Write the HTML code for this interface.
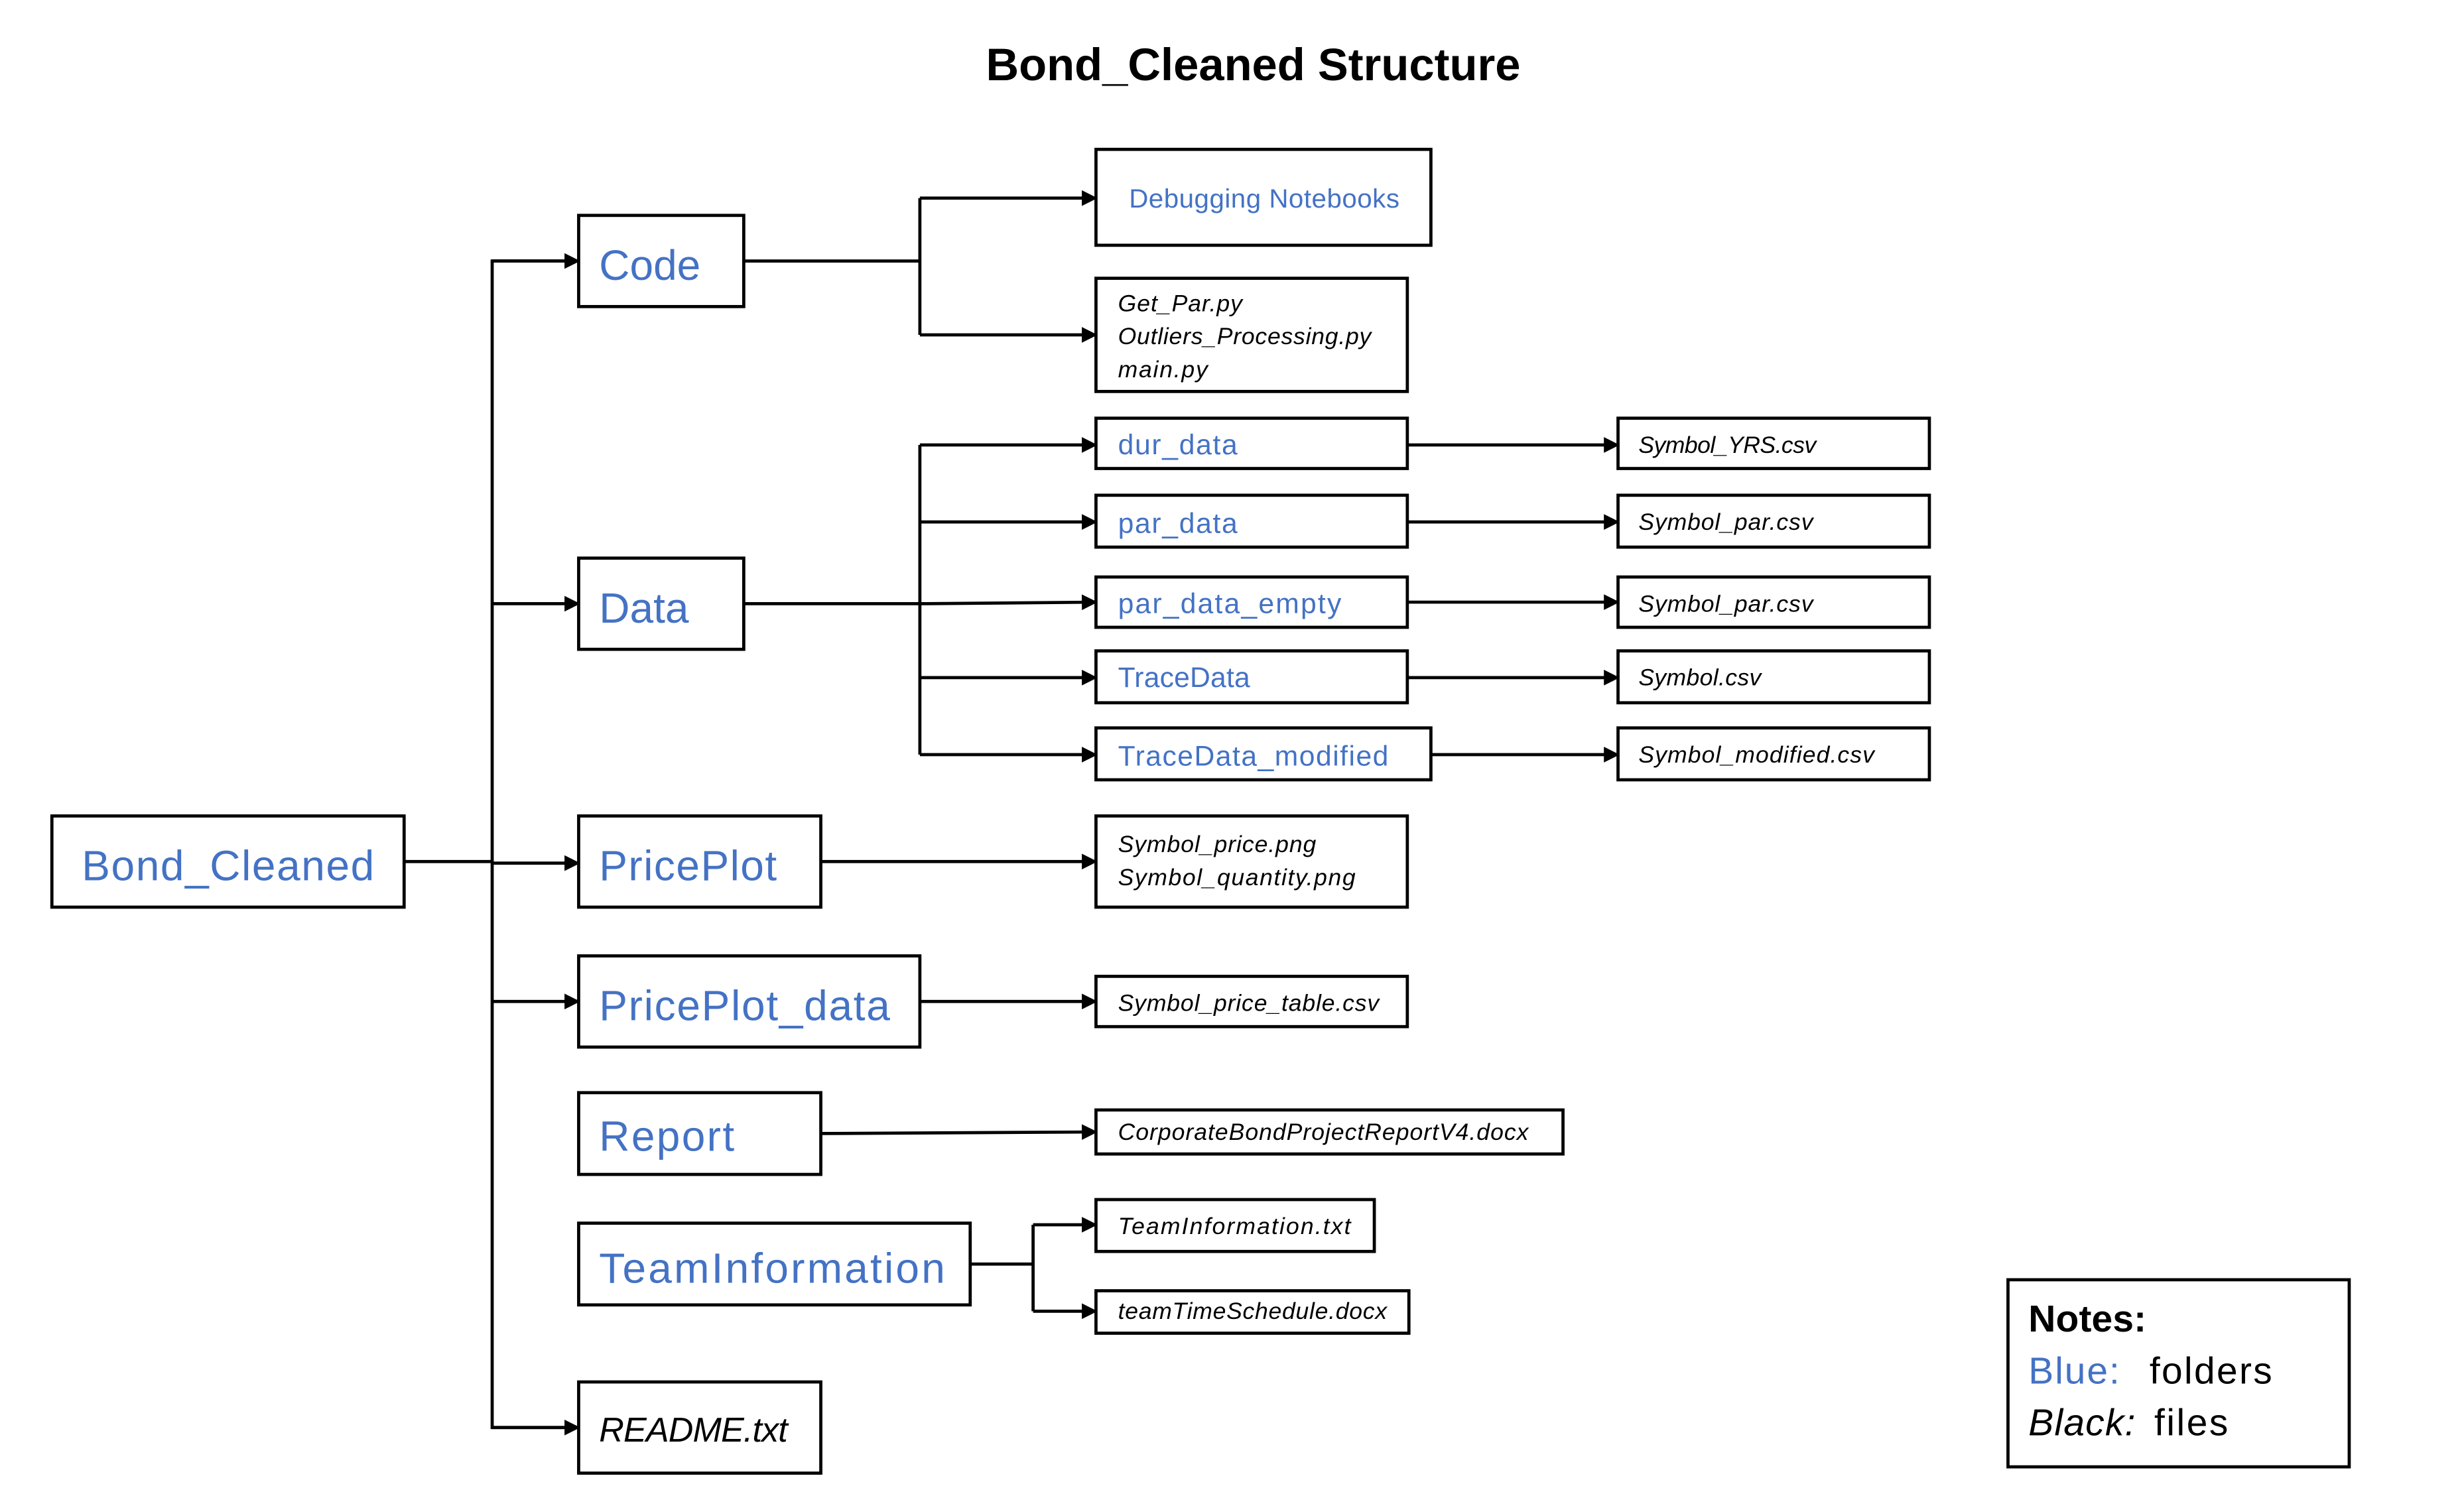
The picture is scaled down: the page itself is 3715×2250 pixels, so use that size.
<!DOCTYPE html>
<html><head><meta charset="utf-8"><style>
html,body{margin:0;padding:0;background:#fff;}
svg{display:block;}
text{font-family:"Liberation Sans",sans-serif;}
.b{fill:#4472C4;}
.f{font-style:italic;fill:#000;}
rect{fill:#fff;stroke:#000;stroke-width:2;}
line,polyline{stroke:#000;stroke-width:2;fill:none;}
</style></head><body>
<svg width="3715" height="2250" viewBox="0 0 1567 949" preserveAspectRatio="none" xmlns="http://www.w3.org/2000/svg">
<defs><marker id="a" markerWidth="10" markerHeight="10" refX="9" refY="5" orient="auto" markerUnits="userSpaceOnUse"><path d="M0,0 L10,5 L0,10 Z" fill="#000"/></marker></defs>
<text x="797" y="51" text-anchor="middle" font-size="29" font-weight="bold">Bond_Cleaned Structure</text>

<line x1="257" y1="548" x2="313" y2="548"/>
<polyline points="368,166 313,166 313,908 368,908"/>
<line x1="313" y1="166" x2="368" y2="166" marker-end="url(#a)"/>
<line x1="313" y1="384" x2="368" y2="384" marker-end="url(#a)"/>
<line x1="313" y1="549" x2="368" y2="549" marker-end="url(#a)"/>
<line x1="313" y1="637" x2="368" y2="637" marker-end="url(#a)"/>
<line x1="313" y1="908" x2="368" y2="908" marker-end="url(#a)"/>

<line x1="473" y1="166" x2="585" y2="166"/>
<line x1="585" y1="126" x2="585" y2="213"/>
<line x1="585" y1="126" x2="697" y2="126" marker-end="url(#a)"/>
<line x1="585" y1="213" x2="697" y2="213" marker-end="url(#a)"/>

<line x1="473" y1="384" x2="585" y2="384"/>
<line x1="585" y1="283" x2="585" y2="480"/>
<line x1="585" y1="283" x2="697" y2="283" marker-end="url(#a)"/>
<line x1="585" y1="332" x2="697" y2="332" marker-end="url(#a)"/>
<line x1="585" y1="384" x2="697" y2="383" marker-end="url(#a)"/>
<line x1="585" y1="431" x2="697" y2="431" marker-end="url(#a)"/>
<line x1="585" y1="480" x2="697" y2="480" marker-end="url(#a)"/>
<line x1="895" y1="283" x2="1029" y2="283" marker-end="url(#a)"/>
<line x1="895" y1="332" x2="1029" y2="332" marker-end="url(#a)"/>
<line x1="895" y1="383" x2="1029" y2="383" marker-end="url(#a)"/>
<line x1="895" y1="431" x2="1029" y2="431" marker-end="url(#a)"/>
<line x1="910" y1="480" x2="1029" y2="480" marker-end="url(#a)"/>

<line x1="522" y1="548" x2="697" y2="548" marker-end="url(#a)"/>
<line x1="585" y1="637" x2="697" y2="637" marker-end="url(#a)"/>
<line x1="522" y1="721" x2="697" y2="720" marker-end="url(#a)"/>
<line x1="617" y1="804" x2="657" y2="804"/>
<line x1="657" y1="779" x2="657" y2="834"/>
<line x1="657" y1="779" x2="697" y2="779" marker-end="url(#a)"/>
<line x1="657" y1="834" x2="697" y2="834" marker-end="url(#a)"/>

<rect x="33" y="519" width="224" height="58"/>
<text x="52" y="560" font-size="27" class="b" textLength="186">Bond_Cleaned</text>
<rect x="368" y="137" width="105" height="58"/>
<text x="381" y="178" font-size="27" class="b">Code</text>
<rect x="368" y="355" width="105" height="58"/>
<text x="381" y="396" font-size="27" class="b">Data</text>
<rect x="368" y="519" width="154" height="58"/>
<text x="381" y="560" font-size="27" class="b" textLength="113">PricePlot</text>
<rect x="368" y="608" width="217" height="58"/>
<text x="381" y="649" font-size="27" class="b" textLength="185">PricePlot_data</text>
<rect x="368" y="695" width="154" height="52"/>
<text x="381" y="732" font-size="27" class="b" textLength="86">Report</text>
<rect x="368" y="778" width="249" height="52"/>
<text x="381" y="816" font-size="27" class="b" textLength="220">TeamInformation</text>
<rect x="368" y="879" width="154" height="58"/>
<text x="381" y="917" font-size="22" class="f" textLength="120">README.txt</text>

<rect x="697" y="95" width="213" height="61"/>
<text x="718" y="132" font-size="17" class="b" textLength="172">Debugging Notebooks</text>
<rect x="697" y="177" width="198" height="72"/>
<text x="711" y="198" font-size="15" class="f" textLength="79">Get_Par.py</text>
<text x="711" y="219" font-size="15" class="f" textLength="161">Outliers_Processing.py</text>
<text x="711" y="240" font-size="15" class="f" textLength="57">main.py</text>

<rect x="697" y="266" width="198" height="32"/>
<text x="711" y="289" font-size="18" class="b" textLength="76">dur_data</text>
<rect x="697" y="315" width="198" height="33"/>
<text x="711" y="339" font-size="18" class="b" textLength="76">par_data</text>
<rect x="697" y="367" width="198" height="32"/>
<text x="711" y="390" font-size="18" class="b" textLength="142">par_data_empty</text>
<rect x="697" y="414" width="198" height="33"/>
<text x="711" y="437" font-size="18" class="b" textLength="84">TraceData</text>
<rect x="697" y="463" width="213" height="33"/>
<text x="711" y="487" font-size="18" class="b" textLength="172">TraceData_modified</text>

<rect x="1029" y="266" width="198" height="32"/>
<text x="1042" y="288" font-size="15" class="f" textLength="113">Symbol_YRS.csv</text>
<rect x="1029" y="315" width="198" height="33"/>
<text x="1042" y="337" font-size="15" class="f" textLength="111">Symbol_par.csv</text>
<rect x="1029" y="367" width="198" height="32"/>
<text x="1042" y="389" font-size="15" class="f" textLength="111">Symbol_par.csv</text>
<rect x="1029" y="414" width="198" height="33"/>
<text x="1042" y="436" font-size="15" class="f" textLength="78">Symbol.csv</text>
<rect x="1029" y="463" width="198" height="33"/>
<text x="1042" y="485" font-size="15" class="f" textLength="150">Symbol_modified.csv</text>

<rect x="697" y="519" width="198" height="58"/>
<text x="711" y="542" font-size="15" class="f" textLength="126">Symbol_price.png</text>
<text x="711" y="563" font-size="15" class="f" textLength="151">Symbol_quantity.png</text>
<rect x="697" y="621" width="198" height="32"/>
<text x="711" y="643" font-size="15" class="f" textLength="166">Symbol_price_table.csv</text>
<rect x="697" y="706" width="297" height="28"/>
<text x="711" y="725" font-size="15" class="f" textLength="261">CorporateBondProjectReportV4.docx</text>
<rect x="697" y="763" width="177" height="33"/>
<text x="711" y="785" font-size="15" class="f" textLength="148">TeamInformation.txt</text>
<rect x="697" y="821" width="199" height="27"/>
<text x="711" y="839" font-size="15" class="f" textLength="171">teamTimeSchedule.docx</text>

<rect x="1277" y="814" width="217" height="119"/>
<text x="1290" y="847" font-size="24" font-weight="bold" textLength="75">Notes:</text>
<text x="1290" y="880" font-size="24" class="b" textLength="58">Blue:</text>
<text x="1367" y="880" font-size="24" textLength="78">folders</text>
<text x="1290" y="913" font-size="24" class="f" textLength="68">Black:</text>
<text x="1370" y="913" font-size="24" textLength="47">files</text>
</svg>
</body></html>
